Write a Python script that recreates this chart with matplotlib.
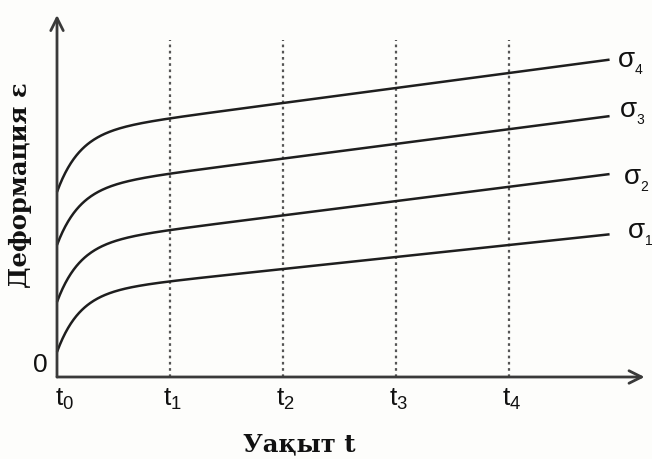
import numpy as np
import matplotlib
matplotlib.use("Agg")
import matplotlib.pyplot as plt

plt.rcParams["mathtext.fontset"] = "custom"
plt.rcParams["mathtext.rm"] = "Liberation Sans"
plt.rcParams["mathtext.it"] = "Liberation Sans"

# Time marks on the horizontal axis
tick_times = [0, 1, 2, 3, 4]
tick_labels = [r"$\mathrm{t}_0$", r"$\mathrm{t}_1$", r"$\mathrm{t}_2$",
               r"$\mathrm{t}_3$", r"$\mathrm{t}_4$"]

# Creep curves for four stress levels
stress_index = ["1", "2", "3", "4"]
eps_instant = [0.25, 0.75, 1.32, 1.85]     # instantaneous strain at t0
eps_primary = [0.59, 0.58, 0.57, 0.59]     # primary (transient) creep amplitude
creep_rate = [0.120, 0.143, 0.147, 0.150]  # steady-state creep rate
tau_primary = 0.2                          # primary creep time constant
t_end = 4.89

W, H, DPI = 652, 459, 100
bg = "#fdfdfb"
fig = plt.figure(figsize=(W / DPI, H / DPI), dpi=DPI)
fig.patch.set_facecolor(bg)
ax = fig.add_axes([0, 0, 1, 1])
ax.set_facecolor(bg)

# pixel-aligned data frame: origin at (57, 377) px, 113 px per time unit, 100 px per strain unit
x0, y0, sx, sy = 57, 377, 113, 100
ax.set_xlim(-x0 / sx, (W - x0) / sx)
ax.set_ylim(-(H - y0) / sy, y0 / sy)
ax.axis("off")

ink = "#111111"
axis_color = "#3a3a3a"
# dotted guides at the time marks
ax.vlines(tick_times[1:], 0, 3.37, colors="#555555", linestyles=(0, (1.2, 1.6)),
          linewidth=1.6, zorder=1)

# axes with open arrowheads
arrow_kw = dict(arrowstyle="->,head_length=0.9,head_width=0.45", color=axis_color,
                lw=2.0, shrinkA=0, shrinkB=0)
ax.annotate("", xy=(5.2, 0), xytext=(0, 0), arrowprops=arrow_kw, zorder=3)
ax.annotate("", xy=(0, 3.62), xytext=(0, 0), arrowprops=arrow_kw, zorder=3)

# label placement (pixels) relative to each curve's end point
label_offsets = [(18, -4), (14, -10), (10, -1), (8, -7)]
t = np.linspace(0, t_end, 600)
for e0, ep, rate, idx, (dx, dy) in zip(eps_instant, eps_primary, creep_rate,
                                       stress_index, label_offsets):
    eps = e0 + ep * (1 - np.exp(-t / tau_primary)) + rate * t
    ax.plot(t, eps, color="#1e1e1e", lw=1.8, zorder=2, solid_capstyle="butt")
    ax.annotate("σ", xy=(t[-1], eps[-1]), xytext=(dx, dy), textcoords="offset pixels",
                fontsize=20, ha="left", va="baseline", color=ink,
                family="Liberation Sans")
    ax.annotate(idx, xy=(t[-1], eps[-1]), xytext=(dx + 17, dy - 7),
                textcoords="offset pixels", fontsize=10, ha="left", va="baseline",
                color=ink, family="Liberation Sans")

for tt, lab in zip(tick_times, tick_labels):
    ax.text(tt + (0.07 if tt == 0 else 0.02), -0.22, lab, fontsize=19, ha="center",
            va="center", color=ink)

ax.text(-0.08, 0.12, "0", fontsize=19, ha="right", va="center",
        family="Liberation Sans", color=ink)

ax.text(2.146, -0.74, "Уақыт t", fontsize=17.5, fontweight="bold",
        family="DejaVu Serif", ha="center", va="baseline", color=ink)
ax.text(-0.33, 1.915, "Деформация ε", fontsize=17.5, fontweight="bold",
        family="DejaVu Serif", ha="center", va="center", rotation=90, color=ink)

fig.savefig("out.png", dpi=DPI, facecolor=fig.get_facecolor())
